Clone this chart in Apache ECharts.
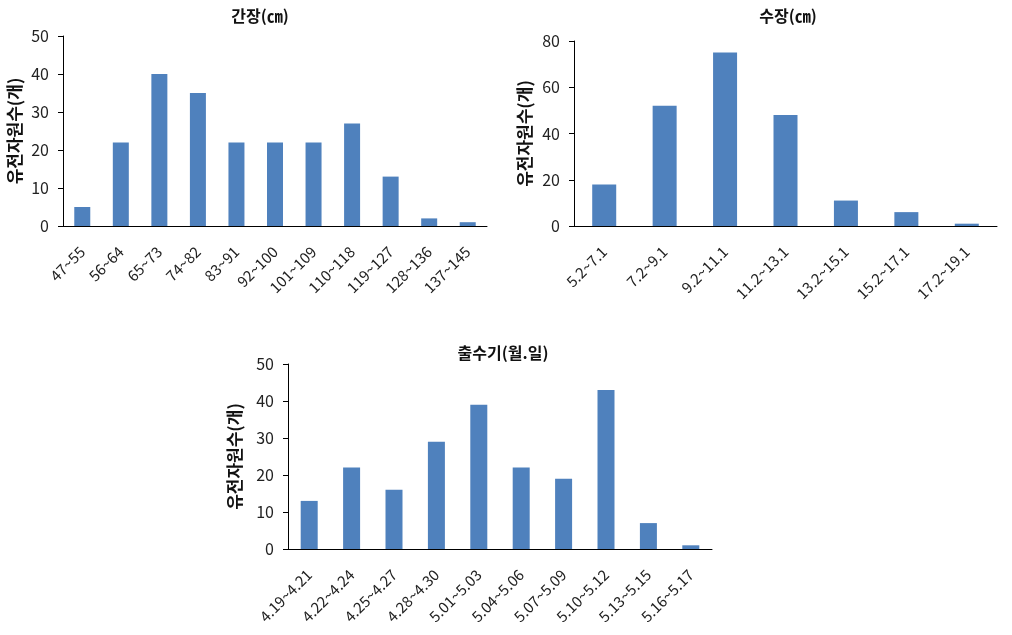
<!DOCTYPE html>
<html><head><meta charset="utf-8">
<script src="https://cdn.jsdelivr.net/npm/echarts@6/dist/echarts.min.js"></script>
<style>html,body{margin:0;padding:0;background:#fff}#c{width:1012px;height:635px}</style>
</head><body><div id="c"></div>
<script>
const titles = ['간장(㎝)', '수장(㎝)', '출수기(월.일)'];
const yName = '유전자원수(개)';
const cat1 = ['47~55','56~64','65~73','74~82','83~91','92~100','101~109','110~118','119~127','128~136','137~145'];
const val1 = [5,22,40,35,22,22,22,27,13,2,1];
const cat2 = ['5.2~7.1','7.2~9.1','9.2~11.1','11.2~13.1','13.2~15.1','15.2~17.1','17.2~19.1'];
const val2 = [18,52,75,48,11,6,1];
const cat3 = ['4.19~4.21','4.22~4.24','4.25~4.27','4.28~4.30','5.01~5.03','5.04~5.06','5.07~5.09','5.10~5.12','5.13~5.15','5.16~5.17'];
const val3 = [13,22,16,29,39,22,19,43,7,1];
const yMax = [50, 80, 50];
const yInt = [10, 20, 10];

const FONT = '"Noto Sans CJK KR", "Noto Sans", sans-serif';
const COLOR = '#4F81BD';
const grids = [
  {left:63, top:36, right:525, bottom:409},
  {left:574, top:41, right:15, bottom:409},
  {left:288, top:364, right:300, bottom:86}
];
const cats = [cat1, cat2, cat3];
const vals = [val1, val2, val3];
const nameGaps = [40, 41, 45];
const barW = [16, 24, 17];

const option = {
  animation:false,
  textStyle:{fontFamily:FONT},
  title:[
    {text:titles[0], left:255, top:3, textAlign:'center'},
    {text:titles[1], left:783, top:3, textAlign:'center'},
    {text:titles[2], left:498, top:340, textAlign:'center'}
  ].map(t=>Object.assign(t,{textStyle:{fontFamily:FONT,fontSize:16,fontWeight:'bold',color:'#111'}})),
  grid:grids,
  xAxis:cats.map((c,i)=>({
    type:'category', gridIndex:i, data:c,
    axisLine:{lineStyle:{color:'#000',width:1}},
    axisTick:{alignWithLabel:true, length:5, lineStyle:{color:'#000'}},
    axisLabel:{rotate:45, interval:0, fontSize:15, color:'#222', fontFamily:FONT, margin:23}
  })),
  yAxis:yMax.map((m,i)=>({
    type:'value', gridIndex:i, min:0, max:m, interval:yInt[i],
    name:yName, nameLocation:'middle', nameRotate:90, nameGap:nameGaps[i],
    nameTextStyle:{fontSize:17, fontWeight:'bold', color:'#111', fontFamily:FONT},
    axisLine:{show:true, lineStyle:{color:'#000',width:1}},
    axisTick:{show:true, length:5, lineStyle:{color:'#000'}},
    splitLine:{show:false},
    axisLabel:{fontSize:16, color:'#222', fontFamily:FONT, margin:14}
  })),
  series:vals.map((v,i)=>({
    type:'bar', xAxisIndex:i, yAxisIndex:i, data:v, barWidth:barW[i],
    itemStyle:{color:COLOR}
  }))
};
echarts.init(document.getElementById('c'), null, {renderer:'canvas'}).setOption(option);
</script></body></html>
